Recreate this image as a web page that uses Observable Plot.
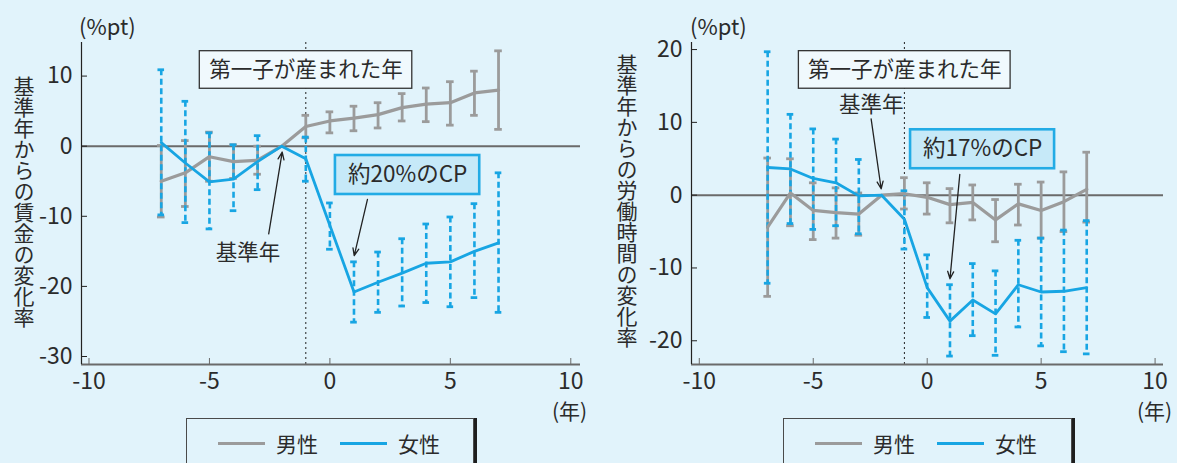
<!DOCTYPE html>
<html>
<head>
<meta charset="utf-8">
<script src="https://cdn.jsdelivr.net/npm/d3@7"></script>
<script src="https://cdn.jsdelivr.net/npm/@observablehq/plot@0.6"></script>
<style>
  html, body { margin: 0; padding: 0; background: #E1F3FB; }
  #chart {
    position: relative; width: 1177px; height: 463px; overflow: hidden;
    background: #E1F3FB; color: #2b2b2b;
    font-family: "Noto Sans CJK JP", "Noto Sans", sans-serif;
  }
  .panel { position: absolute; top: 0; }
  .panel svg { overflow: visible; }
  .ytitle {
    position: absolute; writing-mode: vertical-rl; text-orientation: upright;
    font-size: 21px; line-height: 21px; white-space: nowrap;
  }
  .unit { position: absolute; font-size: 21px; line-height: 24px; white-space: nowrap; }
  .legend {
    position: absolute; top: 418px; height: 62px; box-sizing: border-box;
    border: 1.5px solid #4a4a4a; box-shadow: 3px 0 0 #1e1e1e;
  }
  .legend .sw { position: absolute; top: 23px; width: 47px; height: 3px; }
  .legend .lab { position: absolute; top: 12px; font-size: 21px; line-height: 24px; }
</style>
</head>
<body>
<div id="chart"></div>
<script>
// event time relative to the first child's birth (years)
const years = [-7, -6, -5, -4, -3, -2, -1, 0, 1, 2, 3, 4, 5, 6, 7];

// change in wages from the reference year (%pt)
const wageMale     = [-5.0, -3.8, -1.5, -2.2, -2.0, 0, 2.8, 3.6, 4.0, 4.5, 5.5, 6.0, 6.2, 7.6, 8.0];
const wageMaleHi   = [0.1, 0.8, 2.0, 0.2, 0.0, null, 4.4, 4.9, 5.7, 6.2, 7.5, 8.3, 9.2, 10.7, 13.6];
const wageMaleLo   = [-10.1, -8.6, -5.0, -4.6, -4.0, null, 1.2, 1.9, 2.2, 2.6, 3.6, 3.5, 3.0, 4.4, 2.4];
const wageFemale   = [0.5, -2.4, -5.1, -4.7, -2.2, 0, -1.8, -11.3, -20.8, -19.4, -18.1, -16.7, -16.5, -15.0, -13.8];
const wageFemaleHi = [10.9, 6.4, 1.9, 0.2, 1.5, null, 1.3, -8.1, -16.5, -15.1, -13.2, -11.1, -10.1, -8.2, -3.8];
const wageFemaleLo = [-9.8, -10.9, -11.8, -9.2, -6.2, null, -5.0, -14.7, -25.1, -23.7, -22.8, -22.3, -22.9, -21.6, -23.7];

// change in working hours from the reference year (%pt)
const hoursMale     = [-4.4, 0.3, -2.1, -2.4, -2.6, 0, 0.2, -0.3, -1.3, -1.0, -3.4, -1.2, -2.1, -0.9, 0.8];
const hoursMaleHi   = [5.1, 5.0, 1.7, 1.0, 0.3, null, 2.4, 1.7, 0.9, 1.4, -0.6, 1.5, 1.8, 3.2, 5.9];
const hoursMaleLo   = [-13.9, -4.2, -6.1, -5.9, -5.5, null, -1.9, -2.6, -3.8, -3.4, -6.4, -4.1, -5.9, -5.0, -3.7];
const hoursFemale   = [3.8, 3.6, 2.3, 1.7, -0.1, 0, -3.3, -12.7, -17.3, -14.4, -16.3, -12.3, -13.3, -13.2, -12.7];
const hoursFemaleHi = [19.7, 11.1, 9.1, 7.7, 4.9, null, 0.6, -8.2, -12.3, -9.4, -10.4, -6.2, -5.9, -4.8, -3.5];
const hoursFemaleLo = [-12.1, -3.9, -4.7, -4.2, -5.3, null, -7.4, -16.8, -22.1, -19.3, -22.0, -18.1, -20.7, -21.5, -21.8];

// axis ticks and text
const xTicks = [-10, -5, 0, 5, 10];
const wageYTicks = [-30, -20, -10, 0, 10];
const hoursYTicks = [-20, -10, 0, 10, 20];
const seriesNames = ["男性", "女性"];
const birthLabel = "第一子が産まれた年";
const baseLabel = "基準年";
const wageCpLabel = "約20%のCP";
const hoursCpLabel = "約17%のCP";
const wageTitle = "基準年からの賃金の変化率";
const hoursTitle = "基準年からの労働時間の変化率";
const unitLabel = "(%pt)";
const yearLabel = "(年)";
const birthYear = -1;

const GRAY = "#9b9b9b";
const BLUE = "#17A5E3";
const INK = "#2b2b2b";
const FONT = '"Noto Sans CJK JP", "Noto Sans", sans-serif';

function panel(cfg) {
  const rows = years.map((x, i) => ({
    x, m: cfg.male[i], mHi: cfg.maleHi[i], mLo: cfg.maleLo[i],
    f: cfg.female[i], fHi: cfg.femaleHi[i], fLo: cfg.femaleLo[i]
  }));
  const bars = rows.filter(d => d.mHi != null);
  const pxPerUnit = (cfg.width - cfg.marginLeft - cfg.marginRight) / (cfg.xDomain[1] - cfg.xDomain[0]);
  const capM = 3.8 / pxPerUnit;
  const capF = 3.3 / pxPerUnit;
  const n = cfg.notes;
  return Plot.plot({
    width: cfg.width,
    height: 463,
    marginTop: 42,
    marginBottom: 99,
    marginLeft: cfg.marginLeft,
    marginRight: cfg.marginRight,
    style: { background: "transparent", fontFamily: FONT, fontSize: "23px", color: INK, overflow: "visible" },
    x: { domain: cfg.xDomain, label: null },
    y: { domain: cfg.yDomain, label: null },
    marks: [
      // zero line and first-birth marker
      Plot.ruleY([0], { stroke: "#6a6a6a", strokeWidth: 2 }),
      Plot.ruleX([birthYear], { stroke: "#222", strokeWidth: 1, strokeDasharray: "2,3" }),

      // men: solid error bars
      Plot.ruleX(bars, { x: "x", y1: "mLo", y2: "mHi", stroke: GRAY, strokeWidth: 2.8 }),
      Plot.ruleY(bars, { y: "mHi", x1: d => d.x - capM, x2: d => d.x + capM, stroke: GRAY, strokeWidth: 2.8 }),
      Plot.ruleY(bars, { y: "mLo", x1: d => d.x - capM, x2: d => d.x + capM, stroke: GRAY, strokeWidth: 2.8 }),

      // women: dashed error bars
      Plot.ruleX(bars, { x: "x", y1: "fHi", y2: "fLo", stroke: BLUE, strokeWidth: 2.6, strokeDasharray: "6,3.5" }),
      Plot.ruleY(bars, { y: "fHi", x1: d => d.x - capF, x2: d => d.x + capF, stroke: BLUE, strokeWidth: 2.8 }),
      Plot.ruleY(bars, { y: "fLo", x1: d => d.x - capF, x2: d => d.x + capF, stroke: BLUE, strokeWidth: 2.8 }),

      Plot.line(rows, { x: "x", y: "m", stroke: GRAY, strokeWidth: 3.2 }),
      Plot.line(rows, { x: "x", y: "f", stroke: BLUE, strokeWidth: 2.8 }),

      // axes
      Plot.ruleY([cfg.yDomain[0]], { stroke: "#6a6a6a", strokeWidth: 2 }),
      Plot.ruleX([cfg.xDomain[0]], { stroke: "#222", strokeWidth: 1.2 }),
      Plot.axisX({ ticks: xTicks, tickSize: -6, tickPadding: 14, stroke: "#6a6a6a", fill: INK,
                   tickFormat: d => String(d), label: null, fontSize: 23 }),
      Plot.axisY({ ticks: cfg.yTicks, tickSize: -6, tickPadding: 15, stroke: "#222", fill: INK,
                   tickFormat: d => String(d), label: null, fontSize: 23 }),

      // annotation: year of first birth
      Plot.rect([n.birth], { x1: "x1", x2: "x2", y1: "y1", y2: "y2", fill: "#F0F9FD", stroke: "#333", strokeWidth: 1.3 }),
      Plot.text([n.birth], { x: d => (d.x1 + d.x2) / 2, y: d => (d.y1 + d.y2) / 2, text: () => birthLabel,
                             fontSize: 21.5, fill: INK }),
      // annotation: reference year
      Plot.text([n.base], { x: "x", y: "y", text: () => baseLabel, fontSize: 21.5, fill: INK }),
      Plot.arrow([n.baseArrow], { x1: "x1", y1: "y1", x2: "x2", y2: "y2", stroke: "#222", strokeWidth: 1.3,
                                  headLength: 9, headAngle: 45 }),
      // annotation: child penalty
      Plot.rect([n.cp], { x1: "x1", x2: "x2", y1: "y1", y2: "y2", fill: "#C6E9F8", stroke: "#22ABE5", strokeWidth: 2.6 }),
      Plot.text([n.cp], { x: d => (d.x1 + d.x2) / 2, y: d => (d.y1 + d.y2) / 2, text: "label",
                          fontSize: 22.5, fill: INK }),
      Plot.arrow([n.cpArrow], { x1: "x1", y1: "y1", x2: "x2", y2: "y2", stroke: "#222", strokeWidth: 1.3,
                                headLength: 9, headAngle: 45 })
    ]
  });
}

const chart = document.getElementById("chart");

function place(el, left) {
  const wrap = document.createElement("div");
  wrap.className = "panel";
  wrap.style.left = left + "px";
  wrap.appendChild(el);
  chart.appendChild(wrap);
}

place(panel({
  width: 590, marginLeft: 81, marginRight: 10,
  xDomain: [-10.311, 10.403], yDomain: [-31.14, 14.79], yTicks: wageYTicks,
  male: wageMale, maleHi: wageMaleHi, maleLo: wageMaleLo,
  female: wageFemale, femaleHi: wageFemaleHi, femaleLo: wageFemaleLo,
  notes: {
    birth: { x1: -5.4, x2: 3.42, y1: 13.55, y2: 8.19 },
    base: { x: -3.4, y: -15.2 },
    baseArrow: { x1: -2.54, y1: -12.5, x2: -1.98, y2: -0.86 },
    cp: { x1: 0.23, x2: 6.22, y1: -1.33, y2: -6.89, label: wageCpLabel },
    cpArrow: { x1: 1.56, y1: -7.6, x2: 1.01, y2: -15.6 }
  }
}), 0);

place(panel({
  width: 587, marginLeft: 101, marginRight: 14,
  xDomain: [-10.342, 10.369], yDomain: [-23.26, 20.97], yTicks: hoursYTicks,
  male: hoursMale, maleHi: hoursMaleHi, maleLo: hoursMaleLo,
  female: hoursFemale, femaleHi: hoursFemaleHi, femaleLo: hoursFemaleLo,
  notes: {
    birth: { x1: -5.63, x2: 3.66, y1: 19.78, y2: 14.62 },
    base: { x: -2.45, y: 12.43 },
    baseArrow: { x1: -2.46, y1: 10.49, x2: -2.02, y2: 0.88 },
    cp: { x1: -0.73, x2: 5.59, y1: 8.98, y2: 3.63, label: hoursCpLabel },
    cpArrow: { x1: 1.43, y1: 2.84, x2: 1.0, y2: -11.48 }
  }
}), 590);

// vertical axis titles, units and legends
function addText(cls, text, style) {
  const d = document.createElement("div");
  d.className = cls;
  d.textContent = text;
  Object.assign(d.style, style);
  chart.appendChild(d);
  return d;
}
addText("ytitle", wageTitle, { left: "13px", top: "76px" });
addText("ytitle", hoursTitle, { left: "616px", top: "54px" });
addText("unit", unitLabel, { left: "79px", top: "13px", fontSize: "22px" });
addText("unit", unitLabel, { left: "690px", top: "13px", fontSize: "22px" });
addText("unit", yearLabel, { left: "552px", top: "398px" });
addText("unit", yearLabel, { left: "1137px", top: "398px" });

const seriesColors = [GRAY, BLUE];
function legend(left, width) {
  const box = document.createElement("div");
  box.className = "legend";
  box.style.left = left + "px";
  box.style.width = width + "px";
  seriesNames.forEach((name, i) => {
    const sw = document.createElement("span");
    sw.className = "sw";
    sw.style.left = (31 + i * 122) + "px";
    sw.style.background = seriesColors[i];
    box.appendChild(sw);
    const lab = document.createElement("span");
    lab.className = "lab";
    lab.style.left = (89 + i * 122) + "px";
    lab.textContent = name;
    box.appendChild(lab);
  });
  chart.appendChild(box);
}
legend(186, 288);
legend(783, 289);
</script>
</body>
</html>
